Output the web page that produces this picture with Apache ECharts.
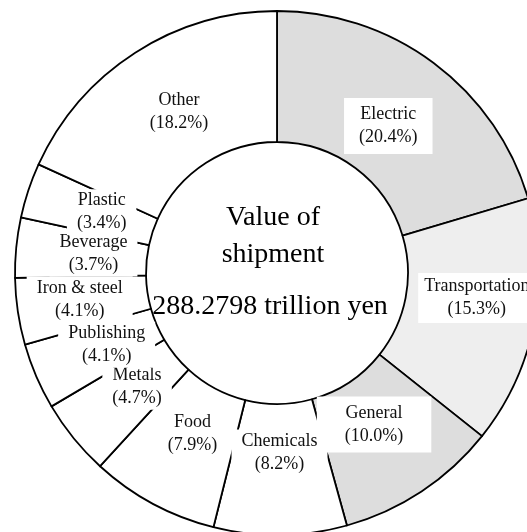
<!DOCTYPE html>
<html>
<head>
<meta charset="utf-8">
<style>
  html, body { margin: 0; padding: 0; background: #ffffff; }
  #chart { width: 527px; height: 532px; }
</style>
<script src="https://cdn.jsdelivr.net/npm/echarts@6/dist/echarts.min.js"></script>
</head>
<body>
<div id="chart"></div>
<script>
// Industry shares of the value of manufactured-goods shipments
const categories = ['Electric', 'Transportation', 'General', 'Chemicals', 'Food', 'Metals',
                    'Publishing', 'Iron & steel', 'Beverage', 'Plastic', 'Other'];
const shares = [20.4, 15.3, 10.0, 8.2, 7.9, 4.7, 4.1, 4.1, 3.7, 3.4, 18.2];
const centerLines = ['Value of', 'shipment'];
const totalText = '288.2798 trillion yen';

// Slice fills (the three largest machinery groups are shaded)
const fills = ['#dddddd', '#eeeeee', '#dddddd', '#ffffff', '#ffffff', '#ffffff',
               '#ffffff', '#ffffff', '#ffffff', '#ffffff', '#ffffff'];
// Small shifts of each label away from the ring's mid-line
const labelNudge = [[-8, 13], [4, -13], [-13, -15], [0, -20], [10, -15], [15, -12],
                    [13, -7], [0, -3], [15, 0], [14, 2], [10, 7]];
const labelPadding = {
  'Electric': [5, 15],
  'Transportation': [2, 6],
  'General': [5, 28]
};

const serif = '"Liberation Serif", "Times New Roman", serif';
const cx = 277, cy = 273;

const chart = echarts.init(document.getElementById('chart'), null, { renderer: 'canvas' });

chart.setOption({
  animation: false,
  backgroundColor: '#ffffff',
  series: [{
    type: 'pie',
    center: [cx, cy],
    radius: [131, 262],
    startAngle: 90,
    clockwise: true,
    avoidLabelOverlap: false,
    silent: true,
    itemStyle: { borderColor: '#000000', borderWidth: 1.8 },
    label: {
      show: true,
      position: 'inside',
      fontFamily: serif,
      fontSize: 18,
      lineHeight: 23,
      color: '#111111',
      align: 'center',
      backgroundColor: '#ffffff',
      padding: [0, 10],
      formatter: p => p.name + '\n(' + p.value.toFixed(1) + '%)'
    },
    labelLine: { show: false },
    labelLayout: p => ({ dx: labelNudge[p.dataIndex][0], dy: labelNudge[p.dataIndex][1] }),
    data: categories.map((name, i) => ({
      name: name,
      value: shares[i],
      itemStyle: { color: fills[i] },
      label: labelPadding[name] ? { padding: labelPadding[name] } : {}
    }))
  }],
  graphic: [
    {
      type: 'text',
      x: 273, y: 236,
      style: {
        text: centerLines.join('\n'),
        fontSize: 28,
        fontFamily: serif,
        lineHeight: 37,
        fill: '#000000',
        align: 'center',
        verticalAlign: 'middle'
      }
    },
    {
      type: 'text',
      x: 270, y: 307,
      style: {
        text: totalText,
        fontSize: 28,
        fontFamily: serif,
        fill: '#000000',
        align: 'center',
        verticalAlign: 'middle'
      }
    }
  ]
});
</script>
</body>
</html>
